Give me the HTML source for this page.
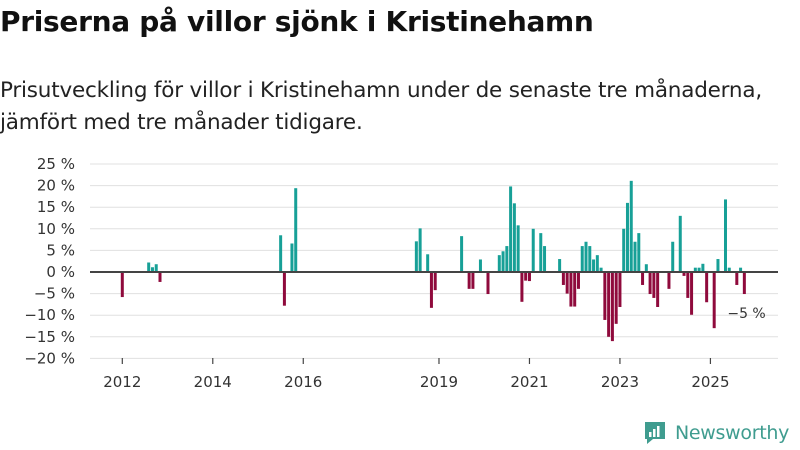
<!DOCTYPE html>
<html><head><meta charset="utf-8"><style>
body{margin:0;width:800px;height:450px;background:#fff;font-family:"DejaVu Sans","Liberation Sans",sans-serif;overflow:hidden;position:relative}
#title{position:absolute;left:0;top:5px;font-size:28px;font-weight:bold;color:#111;margin:0;letter-spacing:-0.3px;white-space:nowrap}
#sub{position:absolute;left:0;top:75px;font-size:21.5px;line-height:32px;color:#222;letter-spacing:-0.2px;white-space:nowrap}
svg{position:absolute;left:0;top:0}
text{font-family:"DejaVu Sans","Liberation Sans",sans-serif}
</style></head><body>
<h1 id="title">Priserna på villor sjönk i Kristinehamn</h1>
<div id="sub">Prisutveckling för villor i Kristinehamn under de senaste tre månaderna,<br>jämfört med tre månader tidigare.</div>
<svg id="chart" width="800" height="450"></svg>
<script>
const months=["2012-01","2012-08","2012-09","2012-10","2012-11","2015-07","2015-08","2015-10","2015-11","2018-07","2018-08","2018-10","2018-11","2018-12","2019-07","2019-09","2019-10","2019-12","2020-02","2020-05","2020-06","2020-07","2020-08","2020-09","2020-10","2020-11","2020-12","2021-01","2021-02","2021-04","2021-05","2021-09","2021-10","2021-11","2021-12","2022-01","2022-02","2022-03","2022-04","2022-05","2022-06","2022-07","2022-08","2022-09","2022-10","2022-11","2022-12","2023-01","2023-02","2023-03","2023-04","2023-05","2023-06","2023-07","2023-08","2023-09","2023-10","2023-11","2024-02","2024-03","2024-05","2024-06","2024-07","2024-08","2024-09","2024-10","2024-11","2024-12","2025-02","2025-03","2025-05","2025-06","2025-08","2025-09","2025-10"];
const values=[-5.8,2.2,1.1,1.8,-2.3,8.5,-7.8,6.6,19.4,7.1,10.1,4.1,-8.3,-4.2,8.3,-3.9,-3.9,2.9,-5.1,3.9,4.8,6,19.8,15.9,10.8,-6.9,-2,-2.1,10,9,6,3,-3,-5,-8,-8,-3.9,6,7,6,2.9,3.9,1,-11.1,-15,-16,-12,-8.1,10,16,21.1,7,9,-3,1.8,-5.1,-6,-8.1,-3.9,7,13,-0.9,-6,-9.9,1,1,1.9,-7,-13,3,16.8,1,-3,1,-5.1];
const yTicks=[25,20,15,10,5,0,-5,-10,-15,-20];
const xTickYears=[2012,2014,2016,2019,2021,2023,2025];
const lastLabel="−5 %";
const svg=document.getElementById('chart');const NS="http://www.w3.org/2000/svg";
function y(v){return 272-v*4.32;}
function xm(s){const [yy,mm]=s.split('-').map(Number);return 122.3+((yy-2012)*12+(mm-1))*3.77;}
function mk(t,a,p){const e=document.createElementNS(NS,t);for(const k in a)e.setAttribute(k,a[k]);(p||svg).appendChild(e);return e;}
yTicks.forEach(v=>{
 const g=mk('line',{x1:90,x2:778,y1:y(v),y2:y(v),stroke:'#e0e0e0','stroke-width':1});
 
 
 const t=mk('text',{x:75,y:y(v)+5,'text-anchor':'end','font-size':15,fill:'#333'});
 t.textContent=(v<0?'−'+(-v):v)+' %';
 
 
});
xTickYears.forEach(yr=>{
 const x=xm(yr+'-01');
 const l=mk('line',{x1:x,x2:x,y1:358,y2:364,stroke:'#444','stroke-width':1.2});
 
 
 const t=mk('text',{x:x,y:387,'text-anchor':'middle','font-size':15,fill:'#333'});
 t.textContent=yr;
 
 
});
months.forEach((m,i)=>{
 const v=values[i];const x=xm(m);
 const r=mk('rect',{x:x-1.5,width:3,y:v>=0?y(v):y(0),height:Math.abs(y(v)-y(0)),fill:v>=0?'#17a097':'#8f0a3c'});
 
 
});
const z=mk('line',{x1:90,x2:778,y1:y(0),y2:y(0),stroke:'#444','stroke-width':2});


const lm=months[months.length-1];
const lt=mk('text',{x:xm(lm)-17,y:y(values[values.length-1])+24,'font-size':14,fill:'#333'});
lt.textContent=lastLabel;


</script>
<div style="position:absolute;left:643px;top:420px;display:flex;align-items:center;white-space:nowrap">
<svg width="24" height="26" style="position:static"><path d="M2 2h20v17h-12l-6 5v-5h-2z" fill="#3f9c8f"/><rect x="6" y="12" width="2.5" height="5" fill="#fff"/><rect x="10" y="9" width="2.5" height="8" fill="#fff"/><rect x="14" y="6" width="2.5" height="11" fill="#fff"/></svg>
<span style="font-size:19px;color:#3f9c8f;margin-left:8px;letter-spacing:-0.3px">Newsworthy</span></div>
</body></html>
